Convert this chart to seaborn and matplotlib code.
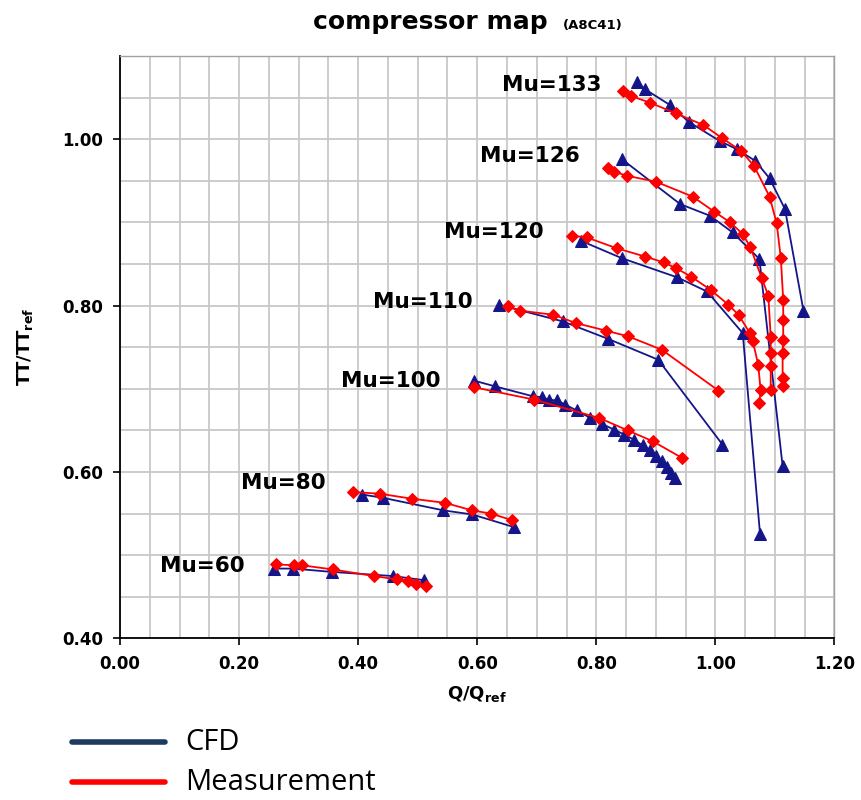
import matplotlib
matplotlib.use("Agg")
import matplotlib.pyplot as plt
import seaborn as sns
import pandas as pd
from matplotlib.lines import Line2D
from matplotlib.ticker import MultipleLocator

# ---- data ----
speeds = ["Mu=133", "Mu=126", "Mu=120", "Mu=110", "Mu=100", "Mu=80", "Mu=60"]
label_pos_q = [0.808, 0.773, 0.711, 0.593, 0.538, 0.346, 0.210]
label_pos_pr = [1.065, 0.980, 0.888, 0.804, 0.710, 0.587, 0.487]

cfd_133_q = [0.868, 0.882, 0.924, 0.955, 1.007, 1.036, 1.067, 1.091, 1.117, 1.148]
cfd_133_pr = [1.069, 1.060, 1.041, 1.021, 0.998, 0.988, 0.974, 0.953, 0.916, 0.794]
meas_133_q = [0.845, 0.858, 0.890, 0.934, 0.980, 1.012, 1.043, 1.065, 1.091, 1.103, 1.110, 1.114, 1.114, 1.114, 1.113, 1.113, 1.113]
meas_133_pr = [1.058, 1.052, 1.044, 1.031, 1.017, 1.001, 0.986, 0.968, 0.931, 0.899, 0.857, 0.807, 0.783, 0.759, 0.743, 0.713, 0.703]

cfd_126_q = [0.843, 0.941, 0.991, 1.029, 1.074, 1.113]
cfd_126_pr = [0.976, 0.922, 0.908, 0.888, 0.856, 0.607]
meas_126_q = [0.819, 0.830, 0.852, 0.900, 0.962, 0.998, 1.025, 1.046, 1.059, 1.078, 1.089, 1.093, 1.093, 1.093, 1.093]
meas_126_pr = [0.965, 0.961, 0.956, 0.949, 0.931, 0.913, 0.900, 0.886, 0.870, 0.833, 0.812, 0.762, 0.743, 0.728, 0.699]

cfd_120_q = [0.774, 0.843, 0.936, 0.986, 1.046, 1.075]
cfd_120_pr = [0.878, 0.857, 0.834, 0.817, 0.767, 0.526]
meas_120_q = [0.760, 0.784, 0.834, 0.882, 0.913, 0.934, 0.959, 0.992, 1.022, 1.039, 1.058, 1.063, 1.072, 1.076, 1.074]
meas_120_pr = [0.884, 0.882, 0.869, 0.859, 0.852, 0.845, 0.835, 0.819, 0.801, 0.789, 0.767, 0.757, 0.729, 0.699, 0.683]

cfd_110_q = [0.637, 0.744, 0.820, 0.904, 1.012]
cfd_110_pr = [0.801, 0.781, 0.760, 0.735, 0.633]
meas_110_q = [0.652, 0.672, 0.728, 0.766, 0.816, 0.854, 0.910, 1.005]
meas_110_pr = [0.799, 0.794, 0.789, 0.779, 0.770, 0.763, 0.747, 0.698]

cfd_100_q = [0.594, 0.630, 0.694, 0.708, 0.720, 0.734, 0.748, 0.767, 0.790, 0.809, 0.830, 0.847, 0.863, 0.878, 0.890, 0.901, 0.910, 0.918, 0.925, 0.932]
cfd_100_pr = [0.710, 0.703, 0.691, 0.690, 0.687, 0.686, 0.681, 0.674, 0.665, 0.658, 0.651, 0.645, 0.639, 0.632, 0.627, 0.619, 0.613, 0.606, 0.599, 0.593]
meas_100_q = [0.594, 0.696, 0.805, 0.853, 0.895, 0.944]
meas_100_pr = [0.702, 0.687, 0.665, 0.650, 0.637, 0.617]

cfd_80_q = [0.407, 0.442, 0.543, 0.592, 0.661]
cfd_80_pr = [0.573, 0.569, 0.554, 0.549, 0.534]
meas_80_q = [0.392, 0.436, 0.490, 0.546, 0.591, 0.624, 0.659]
meas_80_pr = [0.576, 0.574, 0.568, 0.563, 0.554, 0.550, 0.542]

cfd_60_q = [0.259, 0.291, 0.356, 0.459, 0.511]
cfd_60_pr = [0.484, 0.484, 0.480, 0.475, 0.470]
meas_60_q = [0.262, 0.292, 0.305, 0.357, 0.427, 0.465, 0.484, 0.498, 0.514]
meas_60_pr = [0.489, 0.488, 0.488, 0.483, 0.475, 0.471, 0.469, 0.466, 0.463]

x_ticks = [0.0, 0.2, 0.4, 0.6, 0.8, 1.0, 1.2]
y_ticks = [0.4, 0.6, 0.8, 1.0]

cfd_series = [(cfd_133_q, cfd_133_pr), (cfd_126_q, cfd_126_pr), (cfd_120_q, cfd_120_pr),
              (cfd_110_q, cfd_110_pr), (cfd_100_q, cfd_100_pr), (cfd_80_q, cfd_80_pr),
              (cfd_60_q, cfd_60_pr)]
meas_series = [(meas_133_q, meas_133_pr), (meas_126_q, meas_126_pr), (meas_120_q, meas_120_pr),
               (meas_110_q, meas_110_pr), (meas_100_q, meas_100_pr), (meas_80_q, meas_80_pr),
               (meas_60_q, meas_60_pr)]

rows = []
for sp, (q, pr) in zip(speeds, cfd_series):
    for a, b in zip(q, pr):
        rows.append(dict(speed=sp, source="CFD", q=a, pr=b))
for sp, (q, pr) in zip(speeds, meas_series):
    for a, b in zip(q, pr):
        rows.append(dict(speed=sp, source="Measurement", q=a, pr=b))
df = pd.DataFrame(rows)

# ---- style ----
sns.set_theme(style="white")
plt.rcParams['font.family'] = ['DejaVu Sans']
plt.rcParams['mathtext.fontset'] = 'dejavusans'
plt.rcParams['text.color'] = 'black'
plt.rcParams['axes.labelcolor'] = 'black'
plt.rcParams['xtick.color'] = 'black'
plt.rcParams['ytick.color'] = 'black'

CFD_COL = "#15158a"
MEAS_COL = "#ff0000"

fig = plt.figure(figsize=(8.62, 8.0), dpi=100)
ax = fig.add_axes([0.1392, 0.2019, 0.8288, 0.7281])

for sp in speeds:
    sub = df[(df.speed == sp) & (df.source == "CFD")]
    sns.lineplot(data=sub, x="q", y="pr", sort=False, estimator=None, ax=ax,
                 color=CFD_COL, lw=1.3, marker="^", markersize=8,
                 markeredgecolor=CFD_COL, markerfacecolor=CFD_COL, zorder=3)
for sp in speeds:
    sub = df[(df.speed == sp) & (df.source == "Measurement")]
    sns.lineplot(data=sub, x="q", y="pr", sort=False, estimator=None, ax=ax,
                 color=MEAS_COL, lw=1.3, marker="D", markersize=6,
                 markeredgecolor=MEAS_COL, markerfacecolor=MEAS_COL, zorder=4)

for sp, lq, lp in zip(speeds, label_pos_q, label_pos_pr):
    ax.text(lq, lp, sp, ha="right", va="center", fontsize=15.5,
            fontweight="bold", color="black", zorder=5)

ax.set_xlim(0, 1.2)
ax.set_ylim(0.4, 1.1)
ax.set_xticks(x_ticks)
ax.set_yticks(y_ticks)
ax.set_xticklabels([f"{v:.2f}" for v in x_ticks], fontsize=12, fontweight="bold")
ax.set_yticklabels([f"{v:.2f}" for v in y_ticks], fontsize=12, fontweight="bold")
ax.xaxis.set_minor_locator(MultipleLocator(0.05))
ax.yaxis.set_minor_locator(MultipleLocator(0.05))
ax.grid(which="both", color="#c8c8c8", lw=1.3)
ax.set_axisbelow(True)
ax.tick_params(axis="both", which="major", direction="out", length=5, width=1.2,
               color="black", left=True, bottom=True, pad=7)
ax.tick_params(axis="both", which="minor", length=0)
for s in ["left", "bottom"]:
    ax.spines[s].set_color("black")
    ax.spines[s].set_linewidth(1.3)
for s in ["top", "right"]:
    ax.spines[s].set_color("#a0a0a0")
    ax.spines[s].set_linewidth(1.0)

ax.set_xlabel(r"Q/Q$_{\mathbf{ref}}$", fontsize=13, fontweight="bold", labelpad=8)
ax.set_ylabel(r"TT/TT$_{\mathbf{ref}}$", fontsize=13, fontweight="bold", labelpad=20)

fig.text(0.363, 0.972, "compressor map", fontsize=18, fontweight="bold", va="center", ha="left")
fig.text(0.653, 0.968, "(A8C41)", fontsize=9.5, fontweight="bold", va="center", ha="left")

# legend
fig.add_artist(Line2D([72 / 862, 165 / 862], [1 - 742 / 800] * 2, transform=fig.transFigure,
                      color="#1f3a5f", lw=4))
fig.add_artist(Line2D([72 / 862, 165 / 862], [1 - 782 / 800] * 2, transform=fig.transFigure,
                      color="#ff0000", lw=4))
fig.text(185 / 862, 1 - 742 / 800, "CFD", fontsize=21, va="center", ha="left",
         family="Open Sans", color="black")
fig.text(185 / 862, 1 - 782 / 800, "Measurement", fontsize=21, va="center", ha="left",
         family="Open Sans", color="black")

fig.savefig("out.png", dpi=100)
